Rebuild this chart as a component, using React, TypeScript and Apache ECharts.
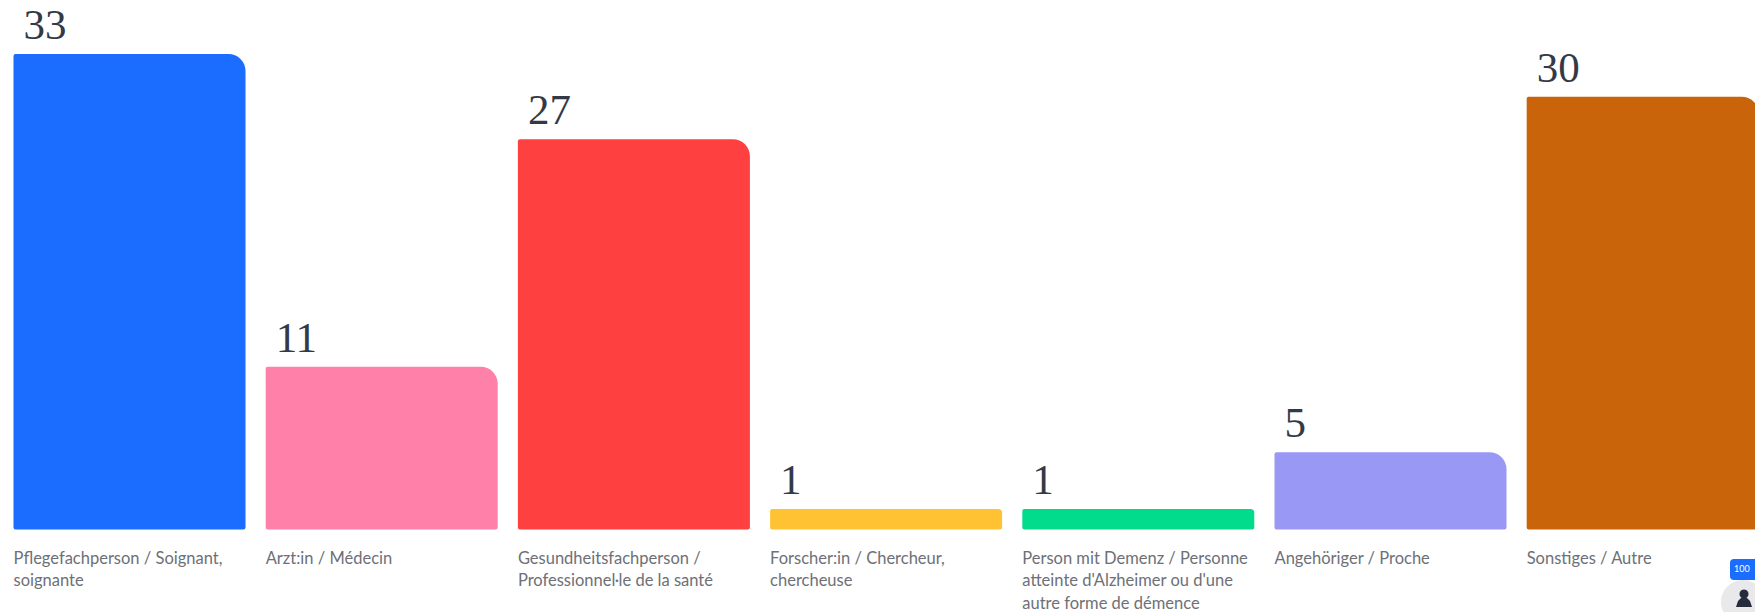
import React, { useEffect, useRef } from "react";
import * as echarts from "echarts";

const categoryLines: string[][] = [
  ["Pflegefachperson / Soignant,", "soignante"],
  ["Arzt:in / Médecin"],
  ["Gesundheitsfachperson /", "Professionnel·le de la santé"],
  ["Forscher:in / Chercheur,", "chercheuse"],
  ["Person mit Demenz / Personne", "atteinte d'Alzheimer ou d'une", "autre forme de démence"],
  ["Angehöriger / Proche"],
  ["Sonstiges / Autre"],
];
const values = [33, 11, 27, 1, 1, 5, 30];
const barColors = ["#1a6dff", "#ff80a8", "#ff4040", "#ffc233", "#00dc8c", "#9999f5", "#c9640a"];

const AXIS_FLOOR = -0.44;

export default function App() {
  const ref = useRef<HTMLDivElement>(null);
  useEffect(() => {
    document.body.style.margin = "0";
    const chart = echarts.init(ref.current!, undefined, { renderer: "svg" });
    chart.setOption({
      animation: false,
      backgroundColor: "#ffffff",
      grid: { left: 3.4, top: 54, width: 1765.4, height: 475.5, containLabel: false, outerBoundsMode: "none" },
      xAxis: {
        type: "category",
        data: categoryLines.map((l) => l.join("\n")),
        axisLine: { show: false },
        axisTick: { show: false },
        axisLabel: {
          interval: 0,
          margin: 17,
          align: "center",
          verticalAlign: "top",
          formatter: (v: string) => v.split("\n").map((t) => `{a|${t}}`).join("\n"),
          rich: {
            a: {
              width: 232,
              align: "left",
              fontFamily: "Lato",
              fontSize: 16.5,
              lineHeight: 22.5,
              color: "#6d7078",
            },
          },
        },
      },
      yAxis: { type: "value", min: AXIS_FLOOR, max: 33, startValue: AXIS_FLOOR, show: false, splitLine: { show: false } },
      series: [
        {
          type: "bar",
          barWidth: 232,
          data: values.map((v, i) => ({
            value: v,
            itemStyle: {
              color: barColors[i],
              borderRadius: v <= 1 ? [2, 4, 2, 2] : [2, 17, 2, 2],
            },
          })),
          label: {
            show: true,
            position: [10, -51],
            fontFamily: "Liberation Serif",
            fontSize: 43,
            color: "#333a47",
          },
        },
      ],
      graphic: [
        { type: "rect", shape: { x: 1730, y: 559, width: 34, height: 21, r: 4 }, style: { fill: "#1a6dff" } },
        { type: "text", x: 1734, y: 564, style: { text: "100", fill: "#ffffff", font: "9px Lato" } },
        { type: "circle", shape: { cx: 1743, cy: 602, r: 22 }, style: { fill: "#e9e9ec" } },
        { type: "circle", shape: { cx: 1744, cy: 594, r: 4.5 }, style: { fill: "#252c3b" } },
        {
          type: "polygon",
          shape: { points: [[1741, 598], [1747, 598], [1750, 601], [1752, 607], [1736, 607], [1738, 601]] },
          style: { fill: "#252c3b" },
        },
      ],
    });
    return () => chart.dispose();
  }, []);
  return <div ref={ref} style={{ position: "absolute", left: 0, top: 0, width: 1755, height: 612, overflow: "hidden" }} />;
}
